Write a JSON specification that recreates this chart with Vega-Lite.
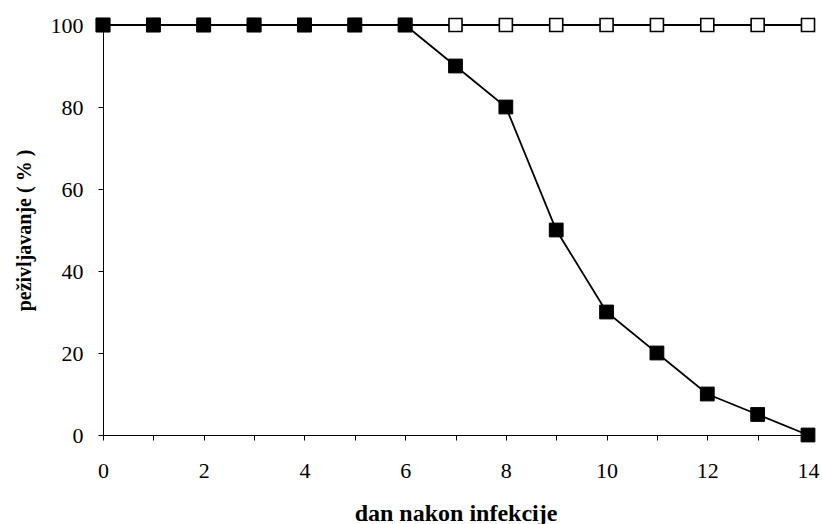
{
  "$schema": "https://vega.github.io/schema/vega-lite/v6.json",
  "width": 705,
  "height": 410,
  "autosize": {"type": "none"},
  "padding": {"left": 103, "top": 25, "right": 14, "bottom": 89},
  "background": "white",
  "config": {
    "view": {"stroke": null},
    "font": "Liberation Serif",
    "axis": {"grid": false, "domainColor": "#000", "tickColor": "#000", "labelColor": "#000", "titleColor": "#000", "labelFont": "Liberation Serif", "titleFont": "Liberation Serif", "labelFontSize": 22, "titleFontSize": 22, "titleFontWeight": "bold"}
  },
  "data": {"values": [
    {"day": 0, "pct": 100, "group": "kontrola"},
    {"day": 1, "pct": 100, "group": "kontrola"},
    {"day": 2, "pct": 100, "group": "kontrola"},
    {"day": 3, "pct": 100, "group": "kontrola"},
    {"day": 4, "pct": 100, "group": "kontrola"},
    {"day": 5, "pct": 100, "group": "kontrola"},
    {"day": 6, "pct": 100, "group": "kontrola"},
    {"day": 7, "pct": 100, "group": "kontrola"},
    {"day": 8, "pct": 100, "group": "kontrola"},
    {"day": 9, "pct": 100, "group": "kontrola"},
    {"day": 10, "pct": 100, "group": "kontrola"},
    {"day": 11, "pct": 100, "group": "kontrola"},
    {"day": 12, "pct": 100, "group": "kontrola"},
    {"day": 13, "pct": 100, "group": "kontrola"},
    {"day": 14, "pct": 100, "group": "kontrola"},
    {"day": 0, "pct": 100, "group": "infekcija"},
    {"day": 1, "pct": 100, "group": "infekcija"},
    {"day": 2, "pct": 100, "group": "infekcija"},
    {"day": 3, "pct": 100, "group": "infekcija"},
    {"day": 4, "pct": 100, "group": "infekcija"},
    {"day": 5, "pct": 100, "group": "infekcija"},
    {"day": 6, "pct": 100, "group": "infekcija"},
    {"day": 7, "pct": 90, "group": "infekcija"},
    {"day": 8, "pct": 80, "group": "infekcija"},
    {"day": 9, "pct": 50, "group": "infekcija"},
    {"day": 10, "pct": 30, "group": "infekcija"},
    {"day": 11, "pct": 20, "group": "infekcija"},
    {"day": 12, "pct": 10, "group": "infekcija"},
    {"day": 13, "pct": 5, "group": "infekcija"},
    {"day": 14, "pct": 0, "group": "infekcija"}
  ]},
  "encoding": {
    "x": {"field": "day", "type": "quantitative",
      "scale": {"domain": [0, 14], "nice": false},
      "axis": {"values": [0,1,2,3,4,5,6,7,8,9,10,11,12,13,14], "labelExpr": "datum.value % 2 == 0 ? datum.label : ''", "tickSize": 5, "labelPadding": 20, "title": "dan nakon infekcije", "titleFontSize": 24, "titlePadding": 20, "labelFlush": false}},
    "y": {"field": "pct", "type": "quantitative",
      "scale": {"domain": [0, 100], "nice": false},
      "axis": {"values": [0,20,40,60,80,100], "tickSize": 5, "labelPadding": 15, "title": "peživljavanje ( % )", "titleFontSize": 20, "titlePadding": 16, "labelFlush": false}}
  },
  "layer": [
    {"transform": [{"filter": "datum.group == 'kontrola'"}],
     "mark": {"type": "line", "color": "#000", "strokeWidth": 1.8, "clip": false}},
    {"transform": [{"filter": "datum.group == 'kontrola'"}],
     "mark": {"type": "point", "shape": "square", "size": 170, "filled": true, "fill": "white", "stroke": "#000", "strokeWidth": 1.6, "opacity": 1, "clip": false}},
    {"transform": [{"filter": "datum.group == 'infekcija'"}],
     "mark": {"type": "line", "color": "#000", "strokeWidth": 1.8, "clip": false}},
    {"transform": [{"filter": "datum.group == 'infekcija'"}],
     "mark": {"type": "point", "shape": "square", "size": 190, "filled": true, "fill": "#000", "stroke": "#000", "strokeWidth": 1, "opacity": 1, "clip": false}}
  ]
}
